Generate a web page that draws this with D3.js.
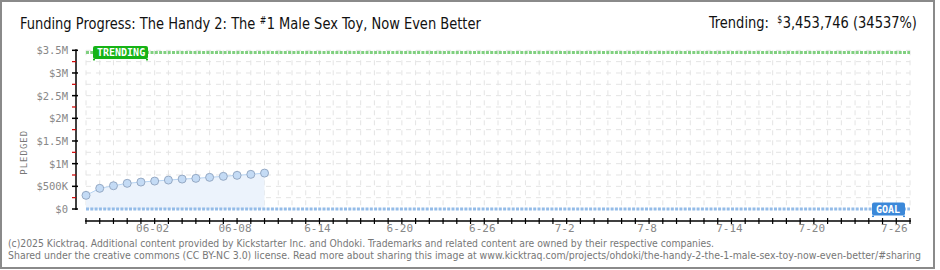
<!DOCTYPE html>
<html>
<head>
<meta charset="utf-8">
<style>
  body { margin: 0; background: #fff; }
  svg text { font-family: "DejaVu Sans Condensed", "Liberation Sans Narrow", "DejaVu Sans", sans-serif; }
  .px { font-family: "DejaVu Sans Mono", monospace !important; }
</style>
<title>Funding Progress</title>
</head>
<body>
<script src="https://cdn.jsdelivr.net/npm/d3@7"></script>
<script>
// daily pledged totals
var days = ["2025-05-28","2025-05-29","2025-05-30","2025-05-31","2025-06-01","2025-06-02","2025-06-03",
            "2025-06-04","2025-06-05","2025-06-06","2025-06-07","2025-06-08","2025-06-09","2025-06-10"];
var pledged = [301000, 456000, 513000, 566000, 594000, 616000, 638000,
               660000, 676000, 698000, 720000, 742000, 764000, 792000];

var xStart = "2025-05-28", xEnd = "2025-07-27";
var xTickDates = ["2025-06-02","2025-06-08","2025-06-14","2025-06-20","2025-06-26","2025-07-02","2025-07-08","2025-07-14","2025-07-20","2025-07-26"];
var xTickLabels = ["06-02","06-08","6-14","6-20","6-26","7-2","7-8","7-14","7-20","7-26"];
var yTicks = [0, 500000, 1000000, 1500000, 2000000, 2500000, 3000000, 3500000];
var yTickLabels = ["$0","$500K","$1M","$1.5M","$2M","$2.5M","$3M","$3.5M"];

var goal = 10000;
var trending = 3453746;

var width = 940, height = 270;
var parse = d3.utcParse("%Y-%m-%d");

var svg = d3.select("body").append("svg")
  .attr("width", width).attr("height", height);

// frame
svg.append("rect").attr("x", 1).attr("y", 1).attr("width", 933).attr("height", 267)
  .attr("fill", "none").attr("stroke", "#8a8a8a").attr("stroke-width", 2);

var x = d3.scaleUtc().domain([parse(xStart), parse(xEnd)]).range([86, 910]);
var y = d3.scaleLinear().domain([0, 3500000]).range([209, 50.3]);

// text pieces with a small superscript in between, squeezed to a given width
function supText(parts, x0, yb, size, w, anchorEnd) {
  var g = svg.append("g");
  var cx = 0;
  parts.forEach(function(p) {
    var t = g.append("text").attr("x", cx).attr("y", p.sup ? yb - 5 : yb)
      .attr("font-size", p.sup ? size * 0.6 : size).attr("fill", "#111")
      .style("white-space", "pre").text(p.s);
    cx += t.node().getComputedTextLength() + (p.sup ? 0.5 : 0);
  });
  var sx = w / cx;
  g.attr("transform", "translate(" + (anchorEnd ? x0 - w : x0) + ",0) scale(" + sx + ",1)");
}
supText([{s: "Funding Progress: The Handy 2: The "}, {s: "#", sup: true}, {s: "1 Male Sex Toy, Now Even Better"}], 20, 29, 16.5, 461);
supText([{s: "Trending:  "}, {s: "$", sup: true},
         {s: d3.format(",")(trending) + " (" + Math.round(trending / goal * 100) + "%)"}], 917, 28, 16, 208, true);

// grid
var allDays = d3.utcDay.range(parse(xStart), d3.utcDay.offset(parse(xEnd), 1));
var grid = svg.append("g").attr("stroke", "#e4e4e4").attr("stroke-dasharray", "5,5");
grid.selectAll("line.v").data(allDays).enter().append("line")
  .attr("x1", function(d) { return x(d); }).attr("x2", function(d) { return x(d); })
  .attr("y1", y(3500000)).attr("y2", y(0));
var minor = d3.range(0, 3500001, 250000);
grid.selectAll("line.h").data(minor.slice(1)).enter().append("line")
  .attr("x1", x.range()[0]).attr("x2", x.range()[1])
  .attr("y1", function(d) { return y(d); }).attr("y2", function(d) { return y(d); });

// area + line + points
var pts = days.map(function(d, i) { return { date: parse(d), v: pledged[i] }; });
svg.append("path").datum(pts)
  .attr("fill", "#ecf3fc")
  .attr("d", d3.area().x(function(d) { return x(d.date); }).y0(y(0)).y1(function(d) { return y(d.v); }));
svg.append("path").datum(pts)
  .attr("fill", "none").attr("stroke", "#b8d4f2").attr("stroke-width", 1)
  .attr("d", d3.line().x(function(d) { return x(d.date); }).y(function(d) { return y(d.v); }));

// goal & trending lines
svg.append("line").attr("x1", x.range()[0]).attr("x2", x.range()[1])
  .attr("y1", y(goal) + 0.5).attr("y2", y(goal) + 0.5)
  .attr("stroke", "#94bce8").attr("stroke-width", 3).attr("stroke-dasharray", "3,1.3");
svg.append("line").attr("x1", x.range()[0]).attr("x2", x.range()[1])
  .attr("y1", y(trending)).attr("y2", y(trending))
  .attr("stroke", "#80d080").attr("stroke-width", 3).attr("stroke-dasharray", "3,1.3");

svg.selectAll("circle.pt").data(pts).enter().append("circle")
  .attr("cx", function(d) { return x(d.date); }).attr("cy", function(d) { return y(d.v); })
  .attr("r", 4).attr("fill", "#c4dbf5").attr("stroke", "#95a9c4").attr("stroke-width", 1);

// y axis
var yAxis = svg.append("g");
yAxis.append("line").attr("x1", 76).attr("x2", 76).attr("y1", y(3500000) - 1).attr("y2", y(0) + 1)
  .attr("stroke", "#000").attr("stroke-width", 1.5);
yAxis.selectAll("line.minor").data(minor.filter(function(d) { return d % 500000 !== 0; })).enter().append("line")
  .attr("x1", 72).attr("x2", 76).attr("y1", function(d) { return y(d); }).attr("y2", function(d) { return y(d); })
  .attr("stroke", "#d00000").attr("stroke-width", 1.2);
yAxis.selectAll("line.major").data(yTicks).enter().append("line")
  .attr("x1", 72).attr("x2", 78).attr("y1", function(d) { return y(d); }).attr("y2", function(d) { return y(d); })
  .attr("stroke", "#000").attr("stroke-width", 1.5);
yAxis.selectAll("text").data(yTicks).enter().append("text")
  .attr("class", "px")
  .attr("x", 68).attr("y", function(d) { return y(d) + 4; })
  .attr("text-anchor", "end").attr("font-size", 10.5).attr("fill", "#888")
  .text(function(d, i) { return yTickLabels[i]; });

svg.append("text").attr("class", "px")
  .attr("transform", "translate(27," + y(1250000) + ") rotate(-90)")
  .attr("text-anchor", "middle").attr("font-size", 9).attr("letter-spacing", 1).attr("fill", "#777")
  .text("PLEDGED");

// x axis
var xAxis = svg.append("g");
xAxis.append("line").attr("x1", x.range()[0] - 1).attr("x2", x.range()[1] + 1).attr("y1", 221).attr("y2", 221)
  .attr("stroke", "#000").attr("stroke-width", 1.5);
xAxis.selectAll("line.t").data(allDays).enter().append("line")
  .attr("x1", function(d) { return x(d); }).attr("x2", function(d) { return x(d); })
  .attr("y1", 218).attr("y2", 224).attr("stroke", "#000").attr("stroke-width", 1.2);
xAxis.selectAll("text").data(xTickDates).enter().append("text")
  .attr("class", "px")
  .attr("x", function(d) { return x(parse(d)) - 2; }).attr("y", 232)
  .attr("text-anchor", "middle").attr("font-size", 11).attr("fill", "#888")
  .text(function(d, i) { return xTickLabels[i]; });

// labels on reference lines
function tag(label, x0, yc, w, color) {
  var g = svg.append("g");
  g.append("rect").attr("x", x0).attr("y", yc - 6.5).attr("width", w).attr("height", 13)
    .attr("rx", 2).attr("fill", color);
  g.append("rect").attr("x", x0).attr("y", yc + 6.5).attr("width", 2).attr("height", 1.5).attr("fill", color);
  g.append("rect").attr("x", x0 + w - 2).attr("y", yc + 6.5).attr("width", 2).attr("height", 1.5).attr("fill", color);
  g.append("text").attr("class", "px").attr("x", x0 + 4).attr("y", yc + 4)
    .attr("font-size", 10).attr("font-weight", "bold").attr("fill", "#fff")
    .text(label);
}
tag("TRENDING", 93, y(trending), 55, "#16b316");
tag("GOAL", 872, y(goal) + 0.5, 33, "#3b88d9");

// footer
svg.append("text").attr("x", 8).attr("y", 247).attr("font-size", 10).attr("fill", "#777")
  .attr("textLength", 706).attr("lengthAdjust", "spacingAndGlyphs")
  .text("(c)2025 Kicktraq. Additional content provided by Kickstarter Inc. and Ohdoki. Trademarks and related content are owned by their respective companies.");
svg.append("text").attr("x", 8).attr("y", 259).attr("font-size", 10).attr("fill", "#777")
  .attr("textLength", 913).attr("lengthAdjust", "spacingAndGlyphs")
  .text("Shared under the creative commons (CC BY-NC 3.0) license. Read more about sharing this image at www.kicktraq.com/projects/ohdoki/the-handy-2-the-1-male-sex-toy-now-even-better/#sharing");
</script>
</body>
</html>
